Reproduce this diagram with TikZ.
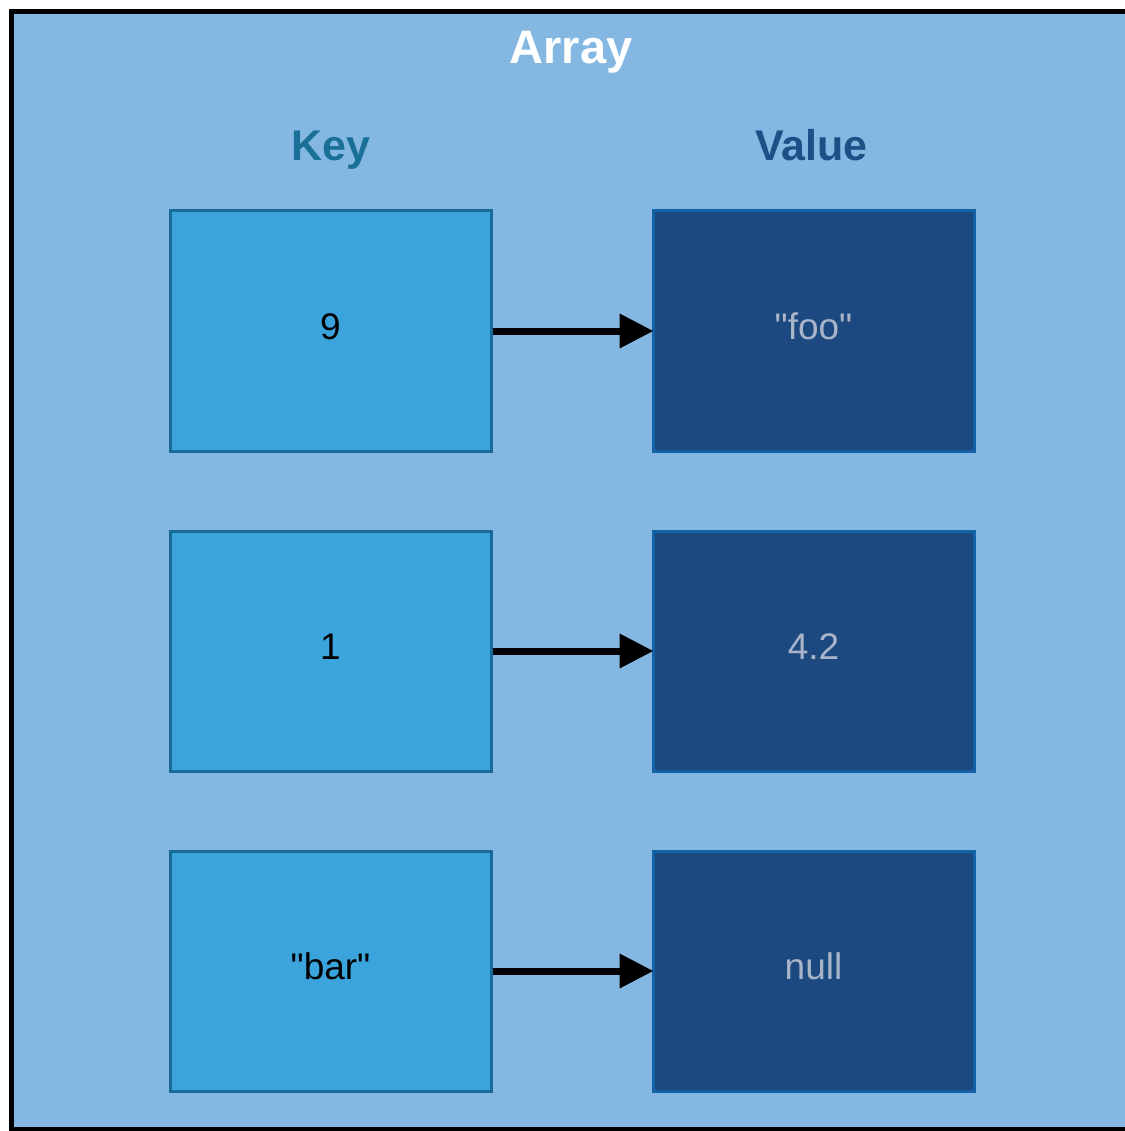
\documentclass[tikz,border=0pt]{standalone}
\usepackage{fontspec}
\setmainfont{Liberation Sans}[Ligatures=TeXOff]
\usetikzlibrary{arrows.meta}
\definecolor{bgblue}{HTML}{84B8E2}
\definecolor{keyfill}{HTML}{3BA4DD}
\definecolor{keyline}{HTML}{1B6B98}
\definecolor{valfill}{HTML}{1C4A80}
\definecolor{valline}{HTML}{1462A6}
\definecolor{keyhead}{HTML}{1A7099}
\definecolor{valhead}{HTML}{1E5088}
\definecolor{valtext}{HTML}{A9B4C8}
\tikzset{
  cell/.style={minimum width=321pt, minimum height=240pt, line width=3pt,
    inner sep=0pt, text height=27pt, text depth=10pt,
    font=\fontsize{37}{40}\selectfont},
  keybox/.style={cell, fill=keyfill, draw=keyline, text=black},
  valbox/.style={cell, fill=valfill, draw=valline, text=valtext},
  head/.style={anchor=base, font=\fontsize{43}{46}\selectfont\bfseries},
  arr/.style={line width=7pt, -{Triangle[length=34pt,width=33pt]}, shorten >=-2pt},
}
\begin{document}
\begin{tikzpicture}[x=1pt,y=-1pt]
\useasboundingbox (0,0) rectangle (1124,1131);
\fill[white] (0,0) rectangle (1124,1131);
\draw[line width=5pt, draw=black, fill=bgblue] (11.5,12) rectangle (1128,1129.5);
\node[anchor=base, text=white, font=\fontsize{47}{50}\selectfont\bfseries] (title) at (571,64) {Array};
\node[head, text=keyhead] (keyh) at (330.5,161) {Key};
\node[head, text=valhead] (valh) at (811.5,161) {Value};
\node[keybox] (k1) at (330.5,331) {9};
\node[keybox] (k2) at (330.5,651) {1};
\node[keybox] (k3) at (330.5,971) {"bar"};
\node[valbox] (v1) at (813.5,331) {"foo"};
\node[valbox] (v2) at (813.5,651) {4.2};
\node[valbox] (v3) at (813.5,971) {null};
\draw[arr] (k1.east) -- (v1.west);
\draw[arr] (k2.east) -- (v2.west);
\draw[arr] (k3.east) -- (v3.west);
\end{tikzpicture}
\end{document}
